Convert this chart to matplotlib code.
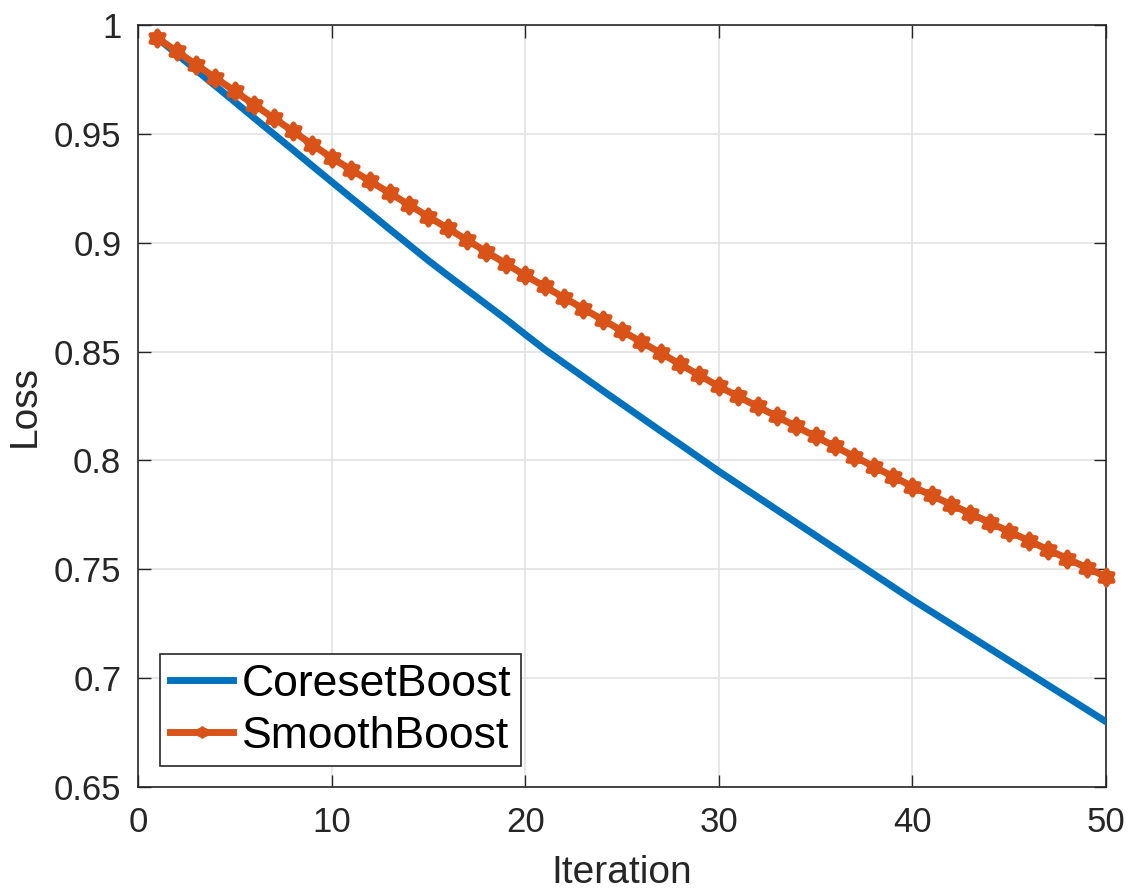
import matplotlib

matplotlib.use("Agg")
import matplotlib.pyplot as plt
import numpy as np
from matplotlib.markers import MarkerStyle
from matplotlib.path import Path

plt.rcParams["font.family"] = ["Liberation Sans", "DejaVu Sans"]

iterations = list(range(1, 51))
coreset_loss = [
    0.9940, 0.9867, 0.9793, 0.9720, 0.9647, 0.9573, 0.9500, 0.9427, 0.9353, 0.9280,
    0.9207, 0.9135, 0.9062, 0.8990, 0.8918, 0.8850, 0.8783, 0.8716, 0.8649, 0.8579,
    0.8510, 0.8447, 0.8384, 0.8321, 0.8259, 0.8197, 0.8135, 0.8074, 0.8012, 0.7950,
    0.7891, 0.7832, 0.7773, 0.7714, 0.7655, 0.7596, 0.7537, 0.7478, 0.7419, 0.7360,
    0.7304, 0.7248, 0.7192, 0.7136, 0.7080, 0.7024, 0.6968, 0.6912, 0.6856, 0.6800,
]
smooth_loss = [
    0.9940, 0.9879, 0.9818, 0.9757, 0.9696, 0.9634, 0.9573, 0.9512, 0.9451, 0.9390,
    0.9336, 0.9282, 0.9228, 0.9174, 0.9120, 0.9066, 0.9012, 0.8958, 0.8904, 0.8850,
    0.8799, 0.8748, 0.8697, 0.8646, 0.8595, 0.8544, 0.8493, 0.8442, 0.8391, 0.8340,
    0.8294, 0.8248, 0.8202, 0.8156, 0.8110, 0.8064, 0.8018, 0.7972, 0.7926, 0.7880,
    0.7839, 0.7797, 0.7756, 0.7714, 0.7673, 0.7632, 0.7590, 0.7549, 0.7507, 0.7466,
]
x_ticks = [0, 10, 20, 30, 40, 50]
y_ticks = [0.65, 0.7, 0.75, 0.8, 0.85, 0.9, 0.95, 1.0]
y_ticklabels = ["0.65", "0.7", "0.75", "0.8", "0.85", "0.9", "0.95", "1"]

# MATLAB-style hexagram marker (six-point star), round joins
ang = np.pi / 2 + np.arange(12) * np.pi / 6
rad = np.where(np.arange(12) % 2 == 0, 1.0, 0.62)
verts = np.column_stack([rad * np.cos(ang), rad * np.sin(ang)])
verts = np.vstack([verts, verts[:1]])
hexagram = MarkerStyle(Path(verts, [Path.MOVETO] + [Path.LINETO] * 11 + [Path.CLOSEPOLY]),
                       joinstyle="round")

dark = "#262626"
fig = plt.figure(figsize=(11.3, 8.92), dpi=100)
ax = fig.add_axes([138 / 1130, 1 - 787 / 892, 968 / 1130, 762 / 892])

ax.plot(iterations, coreset_loss, color="#0072BD", lw=5, label="CoresetBoost", zorder=3)
ax.plot(iterations, smooth_loss, color="#D95319", lw=5, marker=hexagram,
        ms=11, mew=3.5, mec="#D95319", mfc="#D95319", label="SmoothBoost", zorder=4,
        clip_on=False)

ax.set_xlim(0, 50)
ax.set_ylim(0.65, 1.0)
ax.set_xticks(x_ticks)
ax.set_yticks(y_ticks)
ax.set_yticklabels(y_ticklabels)
ax.grid(True, color="#e3e3e3", lw=1.2)
ax.set_axisbelow(True)
ax.tick_params(direction="in", length=9, width=1, colors=dark, labelsize=25,
               top=True, right=True, pad=12)
ax.tick_params(axis="x", pad=14)
for s in ax.spines.values():
    s.set_color(dark)
    s.set_linewidth(1.2)
ax.set_xlabel("Iteration", fontsize=28, color=dark, labelpad=11)
ax.set_ylabel("Loss", fontsize=28, color=dark, labelpad=8)

leg = ax.legend(loc="lower left", bbox_to_anchor=(0.023, 0.027), fontsize=32,
                handlelength=1.42, handletextpad=0.2, borderpad=0.22,
                labelspacing=0.25, markerscale=0.5, fancybox=False, framealpha=1,
                edgecolor=dark, borderaxespad=0)
leg.get_frame().set_linewidth(1.2)

fig.savefig("out.png", dpi=100)
